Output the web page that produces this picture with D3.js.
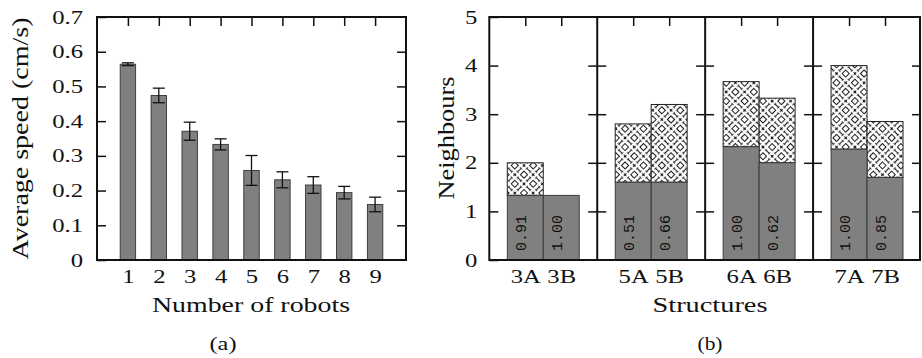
<!DOCTYPE html>
<html>
<head>
<meta charset="utf-8">
<script src="https://cdn.jsdelivr.net/npm/d3@7"></script>
<style>
  body { margin: 0; background: #fff; }
  svg text { font-family: 'Liberation Serif', 'Times New Roman', serif; fill: #111; }
  svg .tick text { font-size: 19px; }
  svg text.ratio { font-family: 'Liberation Mono', monospace; font-size: 15px; }
</style>
</head>
<body>
<svg width="922" height="358"></svg>
<script>
  // (a) average speed vs number of robots
  const robots = [1, 2, 3, 4, 5, 6, 7, 8, 9];
  const speed = [0.564, 0.474, 0.371, 0.333, 0.258, 0.231, 0.216, 0.194, 0.160];
  const speedErr = [0.004, 0.021, 0.026, 0.016, 0.043, 0.023, 0.024, 0.018, 0.021];
  const speedTicks = [0, 0.1, 0.2, 0.3, 0.4, 0.5, 0.6, 0.7];

  // (b) neighbours per structure
  const structures = ['3A', '3B', '5A', '5B', '6A', '6B', '7A', '7B'];
  const solidPart = [1.33, 1.33, 1.6, 1.6, 2.33, 2.0, 2.28, 1.7];
  const totalPart = [2.0, 1.33, 2.8, 3.2, 3.67, 3.33, 4.0, 2.85];
  const ratios = ['0.91', '1.00', '0.51', '0.66', '1.00', '0.62', '1.00', '0.85'];
  const neighbourTicks = [0, 1, 2, 3, 4, 5];

  const serif = "'Liberation Serif', serif";
  const svg = d3.select('svg');
  const stretch = 1.3; // the figure is a little wider than tall

  // hatch pattern (diamonds, crosses, I-bars on a rotated lattice)
  const s = 13, h = s / 2;
  const pat = svg.append('defs').append('pattern')
      .attr('id', 'hatch')
      .attr('patternUnits', 'userSpaceOnUse')
      .attr('width', s).attr('height', s)
      .attr('patternTransform', 'rotate(45)');
  pat.append('rect').attr('width', s).attr('height', s).attr('fill', '#fff');
  const pg = pat.append('g').attr('stroke', '#111').attr('stroke-width', 0.95).attr('fill', 'none');
  [[0, 0], [s, 0], [0, s], [s, s]].forEach(p => {
    pg.append('rect').attr('x', p[0] - 2.5).attr('y', p[1] - 2.5).attr('width', 5).attr('height', 5);
  });
  pg.append('path').attr('d', `M${h-1.8},${h}h3.6M${h},${h-1.8}v3.6`).attr('stroke-width', 1.2);
  const iv = (x, y) => `M${x},${y-2.3}v4.6M${x-1.3},${y-2.3}h2.6M${x-1.3},${y+2.3}h2.6`;
  const ih = (x, y) => `M${x-2.3},${y}h4.6M${x-2.3},${y-1.3}v2.6M${x+2.3},${y-1.3}v2.6`;
  pg.append('path').attr('d', iv(h, 0) + iv(h, s) + ih(0, h) + ih(s, h));

  const plotTop = 17, plotBottom = 260, tickLen = 9;

  function styleAxis(g) {
    g.attr('font-family', serif).attr('font-size', 19);
    g.select('.domain').remove();
    g.selectAll('.tick line').attr('stroke', '#111').attr('stroke-width', 1.5);
    g.selectAll('.tick text').attr('fill', '#111').attr('font-family', serif).each(function () {
      const x = +this.getAttribute('x') || 0;
      d3.select(this).attr('x', x / stretch).attr('transform', `scale(${stretch},1)`);
    });
  }

  function title(x, y, rot, size, len, str) {
    svg.append('text').attr('transform', `translate(${x},${y})` + (rot ? ' rotate(-90)' : ''))
        .attr('text-anchor', 'middle').attr('font-size', size).attr('font-family', serif)
        .attr('textLength', len).attr('lengthAdjust', 'spacingAndGlyphs').text(str);
  }

  // ---------- left chart ----------
  const xa = d3.scaleLinear().domain([0, 10]).range([97, 406]);
  const ya = d3.scaleLinear().domain([0, 0.7]).range([plotBottom, plotTop]);
  const barW = xa(0.5) - xa(0);

  const ga = svg.append('g');
  ga.selectAll('rect.bar').data(robots).enter().append('rect')
      .attr('x', (d) => xa(d) - barW / 2)
      .attr('y', (d, i) => ya(speed[i]))
      .attr('width', barW)
      .attr('height', (d, i) => plotBottom - ya(speed[i]))
      .attr('fill', '#808080').attr('stroke', '#333').attr('stroke-width', 0.9);

  const eb = ga.selectAll('g.err').data(robots).enter().append('g')
      .attr('stroke', '#111').attr('stroke-width', 1.3);
  eb.append('line')
      .attr('x1', d => xa(d)).attr('x2', d => xa(d))
      .attr('y1', (d, i) => ya(speed[i] - speedErr[i])).attr('y2', (d, i) => ya(speed[i] + speedErr[i]));
  [-1, 1].forEach(sg => {
    eb.append('line')
        .attr('x1', d => xa(d) - 6).attr('x2', d => xa(d) + 6)
        .attr('y1', (d, i) => ya(speed[i] + sg * speedErr[i])).attr('y2', (d, i) => ya(speed[i] + sg * speedErr[i]));
  });

  svg.append('g').attr('transform', `translate(${xa(0)},0)`)
      .call(d3.axisLeft(ya).tickValues(speedTicks).tickSize(-tickLen).tickPadding(14).tickFormat(d => d === 0 ? '0' : d3.format('.1f')(d)))
      .call(styleAxis);
  svg.append('g').attr('transform', `translate(${xa(10)},0)`)
      .call(d3.axisRight(ya).tickValues(speedTicks.slice(1, -1)).tickSize(-tickLen).tickFormat(''))
      .call(styleAxis);
  svg.append('g').attr('transform', `translate(0,${plotBottom})`)
      .call(d3.axisBottom(xa).tickValues(robots).tickSize(0).tickPadding(10))
      .call(styleAxis);
  svg.append('g').attr('transform', `translate(0,${plotTop})`)
      .call(d3.axisTop(xa).tickValues(robots).tickSize(-tickLen).tickFormat(''))
      .call(styleAxis);

  svg.append('rect').attr('x', xa(0)).attr('y', plotTop).attr('width', xa(10) - xa(0)).attr('height', plotBottom - plotTop)
      .attr('fill', 'none').attr('stroke', '#111').attr('stroke-width', 2);

  title(28, (plotTop + plotBottom) / 2, true, 23, 242, 'Average speed (cm/s)');
  title(251, 312, false, 22, 198, 'Number of robots');
  title(223, 350, false, 19, 27, '(a)');

  // ---------- right chart ----------
  const xb = d3.scaleLinear().domain([0, 12]).range([489.3, 921]);
  const yb = d3.scaleLinear().domain([0, 5]).range([plotBottom, plotTop]);
  const pos = structures.map((d, i) => Math.floor(i / 2) * 3 + 1 + (i % 2));
  const bw = xb(1) - xb(0);
  const hatchIdx = structures.map((d, i) => i).filter(i => totalPart[i] > solidPart[i]);

  const gb = svg.append('g');
  gb.selectAll('rect.hatch').data(hatchIdx).enter().append('rect')
      .attr('x', i => xb(pos[i]) - bw / 2)
      .attr('y', i => yb(totalPart[i]))
      .attr('width', bw)
      .attr('height', i => yb(solidPart[i]) - yb(totalPart[i]))
      .attr('fill', 'url(#hatch)').attr('stroke', '#222').attr('stroke-width', 1);
  gb.selectAll('rect.solid').data(structures).enter().append('rect')
      .attr('x', (d, i) => xb(pos[i]) - bw / 2)
      .attr('y', (d, i) => yb(solidPart[i]))
      .attr('width', bw)
      .attr('height', (d, i) => plotBottom - yb(solidPart[i]))
      .attr('fill', '#808080').attr('stroke', '#333').attr('stroke-width', 0.9);
  gb.selectAll('text.ratio').data(ratios).enter().append('text')
      .attr('class', 'ratio')
      .attr('transform', (d, i) => `translate(${xb(pos[i]) - 2.5},251) rotate(-90)`)
      .attr('dominant-baseline', 'central')
      .text(d => d);

  const groupEdges = [0, 3, 6, 9, 12];
  svg.append('g').attr('transform', `translate(${xb(0)},0)`)
      .call(d3.axisLeft(yb).tickValues(neighbourTicks).tickSize(-tickLen).tickPadding(12).tickFormat(d3.format('d')))
      .call(styleAxis);
  groupEdges.slice(1).forEach(e => {
    svg.append('g').attr('transform', `translate(${xb(e)},0)`)
        .call(d3.axisLeft(yb).tickValues(neighbourTicks.slice(1, -1)).tickSize(tickLen).tickFormat('')).call(styleAxis);
    if (e < 12) {
      svg.append('g').attr('transform', `translate(${xb(e)},0)`)
          .call(d3.axisLeft(yb).tickValues(neighbourTicks.slice(1, -1)).tickSize(-tickLen).tickFormat('')).call(styleAxis);
    }
  });
  svg.append('g').attr('transform', `translate(0,${plotBottom})`)
      .call(d3.axisBottom(xb).tickValues(pos).tickSize(0).tickPadding(10).tickFormat((d, i) => structures[i]))
      .call(styleAxis);
  svg.append('g').attr('transform', `translate(0,${plotTop})`)
      .call(d3.axisTop(xb).tickValues(pos).tickSize(-tickLen).tickFormat(''))
      .call(styleAxis);

  svg.append('rect').attr('x', xb(0)).attr('y', plotTop).attr('width', xb(12) - xb(0) - 1).attr('height', plotBottom - plotTop)
      .attr('fill', 'none').attr('stroke', '#111').attr('stroke-width', 2);
  groupEdges.slice(1, -1).forEach(e => {
    svg.append('line').attr('x1', xb(e)).attr('x2', xb(e)).attr('y1', plotTop).attr('y2', plotBottom)
        .attr('stroke', '#111').attr('stroke-width', 2);
  });

  title(454, 138, true, 23, 123, 'Neighbours');
  title(710, 312, false, 22, 115, 'Structures');
  title(710, 350, false, 19, 25, '(b)');
</script>
</body>
</html>
